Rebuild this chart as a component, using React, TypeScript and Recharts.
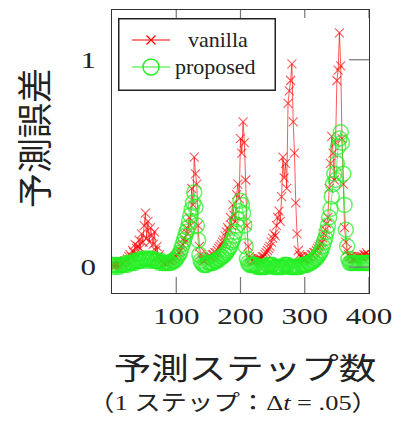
import React from "react";
import { LineChart, Line, XAxis, YAxis } from "recharts";

// prediction step (x)
const steps = [
  0, 2, 4, 6, 8, 10, 12, 14, 16, 18, 20, 22, 24, 26, 28, 30, 32, 34, 36, 38,
  40, 42, 44, 46, 48, 50, 52, 54, 56, 58, 60, 62, 64, 66, 68, 70, 72, 74, 76, 78,
  80, 82, 84, 86, 88, 90, 92, 94, 96, 98, 100, 102, 104, 106, 108, 110, 112, 114, 116, 118,
  120, 122, 124, 126, 128, 130, 132, 134, 136, 138, 140, 142, 144, 146, 148, 150, 152, 154, 156, 158,
  160, 162, 164, 166, 168, 170, 172, 174, 176, 178, 180, 182, 184, 186, 188, 190, 192, 194, 196, 198,
  200, 202, 204, 206, 208, 210, 212, 214, 216, 218, 220, 222, 224, 226, 228, 230, 232, 234, 236, 238,
  240, 242, 244, 246, 248, 250, 252, 254, 256, 258, 260, 262, 264, 266, 268, 270, 272, 274, 276, 278,
  280, 282, 284, 286, 288, 290, 292, 294, 296, 298, 300, 302, 304, 306, 308, 310, 312, 314, 316, 318,
  320, 322, 324, 326, 328, 330, 332, 334, 336, 338, 340, 342, 344, 346, 348, 350, 352, 354, 356, 358,
  360, 362, 364, 366, 368, 370, 372, 374, 376, 378, 380, 382, 384, 386, 388, 390, 392, 394, 396, 398,
  400,
];

const vanilla = [
  0.01, 0.01, 0.01, 0.01, 0.01, 0.02, 0.01, 0.02, 0.02, 0.02, 0.03, 0.03, 0.04, 0.05, 0.06, 0.05, 0.08, 0.07, 0.11, 0.09,
  0.1, 0.13, 0.09, 0.16, 0.12, 0.2, 0.26, 0.14, 0.22, 0.12, 0.19, 0.15, 0.11, 0.17, 0.08, 0.1, 0.05, 0.06, 0.03, 0.03,
  0.02, 0.02, 0.02, 0.02, 0.03, 0.03, 0.03, 0.04, 0.04, 0.05, 0.05, 0.06, 0.07, 0.08, 0.1, 0.11, 0.14, 0.12, 0.19, 0.16,
  0.24, 0.2, 0.38, 0.3, 0.53, 0.45, 0.4, 0.2, 0.1, 0.06, 0.04, 0.03, 0.03, 0.04, 0.04, 0.05, 0.05, 0.05, 0.06, 0.06,
  0.07, 0.07, 0.08, 0.09, 0.1, 0.11, 0.12, 0.13, 0.15, 0.17, 0.19, 0.18, 0.24, 0.2, 0.3, 0.25, 0.22, 0.35, 0.4, 0.33,
  0.62, 0.55, 0.7, 0.6, 0.42, 0.2, 0.1, 0.05, 0.04, 0.03, 0.03, 0.03, 0.03, 0.04, 0.04, 0.04, 0.04, 0.05, 0.05, 0.06,
  0.07, 0.08, 0.09, 0.1, 0.12, 0.14, 0.16, 0.15, 0.2, 0.24, 0.27, 0.22, 0.34, 0.53, 0.43, 0.5, 0.38, 0.79, 0.85, 0.9,
  0.98, 0.7, 0.55, 0.31, 0.16, 0.08, 0.06, 0.05, 0.04, 0.04, 0.04, 0.04, 0.05, 0.05, 0.05, 0.06, 0.06, 0.07, 0.07, 0.08,
  0.09, 0.1, 0.11, 0.12, 0.14, 0.16, 0.18, 0.21, 0.24, 0.38, 0.5, 0.63, 0.55, 0.42, 0.6, 0.9, 0.95, 1.13, 0.97, 0.62,
  0.4, 0.19, 0.12, 0.08, 0.06, 0.05, 0.05, 0.04, 0.04, 0.04, 0.04, 0.05, 0.05, 0.05, 0.05, 0.05, 0.06, 0.06, 0.07, 0.06,
  0.05,
];

const proposed = [
  0.01, 0.01, 0.0, 0.01, 0.01, 0.0, 0.01, 0.01, 0.01, 0.01, 0.01, 0.02, 0.01, 0.02, 0.02, 0.02, 0.02, 0.03, 0.02, 0.03,
  0.03, 0.03, 0.03, 0.04, 0.03, 0.04, 0.04, 0.04, 0.03, 0.04, 0.04, 0.03, 0.04, 0.03, 0.03, 0.03, 0.03, 0.02, 0.03, 0.02,
  0.02, 0.02, 0.02, 0.02, 0.02, 0.02, 0.02, 0.03, 0.03, 0.03, 0.04, 0.05, 0.06, 0.07, 0.09, 0.11, 0.13, 0.15, 0.17, 0.19,
  0.22, 0.25, 0.28, 0.31, 0.36, 0.29, 0.2, 0.13, 0.06, 0.03, 0.02, 0.01, 0.01, 0.01, 0.01, 0.02, 0.02, 0.02, 0.02, 0.02,
  0.03, 0.03, 0.03, 0.04, 0.04, 0.05, 0.05, 0.06, 0.06, 0.07, 0.08, 0.09, 0.1, 0.12, 0.13, 0.15, 0.17, 0.2, 0.23, 0.27,
  0.32, 0.3, 0.26, 0.2, 0.1, 0.04, 0.02, 0.01, 0.01, 0.01, 0.01, 0.01, 0.01, 0.0, 0.0, 0.0, 0.0, 0.0, 0.0, 0.0,
  0.0, 0.01, 0.01, 0.01, 0.01, 0.01, 0.0, 0.0, 0.0, 0.0, 0.0, 0.0, 0.0, 0.0, 0.01, 0.01, 0.01, 0.01, 0.0, 0.0,
  0.0, 0.0, 0.0, 0.0, 0.0, 0.0, 0.0, 0.01, 0.01, 0.01, 0.01, 0.01, 0.01, 0.02, 0.02, 0.02, 0.03, 0.03, 0.04, 0.04,
  0.05, 0.06, 0.07, 0.08, 0.1, 0.12, 0.14, 0.17, 0.2, 0.24, 0.28, 0.34, 0.4, 0.45, 0.42, 0.5, 0.58, 0.62, 0.65, 0.6,
  0.45, 0.3, 0.18, 0.1, 0.04, 0.02, 0.02, 0.02, 0.02, 0.02, 0.02, 0.02, 0.02, 0.02, 0.02, 0.02, 0.02, 0.02, 0.02, 0.02,
  0.02,
];

const xTicks = [100, 200, 300, 400];
const yTicks = [0, 1];

const chartData = steps.map((s, i) => ({
  step: s,
  vanilla: vanilla[i],
  proposed: proposed[i],
}));

const RED = "#ff0000";
const GREEN = "#22f022";
const TICK_GRAY = "#777";
const FRAME = "#333";
const SERIF = "'Liberation Serif', 'DejaVu Serif', serif";
const JP = "'Liberation Serif', 'Noto Sans CJK JP', sans-serif";

// plot box in the 395x422 canvas
const PLOT = { left: 112, top: 10, right: 369, bottom: 293 };
const LABEL_GAP = 15; // axis line -> top of x tick label
const Y_LABEL_GAP = 16;

const CrossDot = (props: any) => {
  const { cx, cy, index } = props;
  if (cx == null || cy == null) return <g key={`v${index}`} />;
  const s = 4.5;
  return (
    <path
      key={`v${index}`}
      d={`M${cx - s},${cy - s}L${cx + s},${cy + s}M${cx - s},${cy + s}L${cx + s},${cy - s}`}
      stroke={RED}
      strokeOpacity={0.65}
      strokeWidth={1.1}
      fill="none"
    />
  );
};

const CircleDot = (props: any) => {
  const { cx, cy, index } = props;
  if (cx == null || cy == null) return <g key={`p${index}`} />;
  return (
    <circle
      key={`p${index}`}
      cx={cx}
      cy={cy}
      r={7.5}
      stroke={GREEN}
      strokeOpacity={0.7}
      strokeWidth={1.5}
      fill="none"
    />
  );
};

// x tick: label below the box, plus short inner tick marks at bottom and top edges
const XTick = (props: any) => {
  const { x, y, payload } = props;
  const axisY = y - LABEL_GAP;
  return (
    <g>
      <line x1={x} x2={x} y1={axisY} y2={axisY - 16} stroke={TICK_GRAY} strokeWidth={1.2} />
      <line x1={x} x2={x} y1={PLOT.top} y2={PLOT.top + 8} stroke={TICK_GRAY} strokeWidth={1.2} />
      <text
        transform={`translate(${x},${y}) scale(1.35,1)`}
        textAnchor="middle"
        dy="0.71em"
        fontSize={23}
        fontFamily={SERIF}
        fill="#222"
      >
        {payload.value}
      </text>
    </g>
  );
};

// y tick: label left of the box, short inner tick mark at the right edge
const YTick = (props: any) => {
  const { x, y, payload } = props;
  return (
    <g>
      <line x1={PLOT.right} x2={PLOT.right - 20} y1={y} y2={y} stroke={TICK_GRAY} strokeWidth={1.2} />
      <text
        transform={`translate(${x},${y}) scale(1.35,1)`}
        textAnchor="end"
        dy="0.36em"
        fontSize={23}
        fontFamily={SERIF}
        fill="#222"
      >
        {payload.value}
      </text>
    </g>
  );
};

const LegendBox = () => (
  <svg
    width={158}
    height={73}
    style={{ position: "absolute", left: 118, top: 18 }}
  >
    <rect x={0.75} y={0.75} width={156.5} height={71.5} fill="#fff" stroke="#222" strokeWidth={1.5} />
    <line x1={14} x2={52} y1={22} y2={22} stroke={RED} strokeWidth={1.2} />
    <path d="M28.5,17.5L37.5,26.5M28.5,26.5L37.5,17.5" stroke={RED} strokeWidth={1.2} />
    <text x={70} y={22} dy="0.33em" fontSize={20} fontFamily={SERIF} fill="#222" transform="translate(-7,0) scale(1.1,1)">
      vanilla
    </text>
    <line x1={14} x2={52} y1={49} y2={49} stroke={GREEN} strokeWidth={1.2} />
    <circle cx={33} cy={49} r={8} stroke={GREEN} strokeWidth={1.5} fill="none" />
    <text x={57} y={49} dy="0.33em" fontSize={20} fontFamily={SERIF} fill="#222" transform="translate(-5.7,0) scale(1.1,1)">
      proposed
    </text>
  </svg>
);

const App = () => {
  return (
    <div
      style={{
        position: "absolute",
        left: 0,
        top: 0,
        width: 395,
        height: 422,
        background: "#fff",
        color: "#222",
      }}
    >
      <LineChart
        width={395}
        height={422}
        data={chartData}
        margin={{ top: PLOT.top, right: 395 - PLOT.right, bottom: 99, left: 0 }}
      >
        <XAxis
          dataKey="step"
          type="number"
          domain={[0, 400]}
          ticks={xTicks}
          allowDataOverflow
          height={422 - 99 - PLOT.bottom}
          tickSize={0}
          tickMargin={LABEL_GAP}
          tickLine={false}
          tick={XTick}
          axisLine={false}
        />
        <YAxis
          type="number"
          domain={[-0.125, 1.24]}
          ticks={yTicks}
          allowDataOverflow
          width={PLOT.left}
          tickSize={0}
          tickMargin={Y_LABEL_GAP}
          tickLine={false}
          tick={YTick}
          axisLine={false}
        />
        <Line
          type="linear"
          dataKey="vanilla"
          stroke={RED}
          strokeOpacity={0.65}
          strokeWidth={1}
          dot={CrossDot}
          activeDot={false}
          isAnimationActive={false}
        />
        <Line
          type="linear"
          dataKey="proposed"
          stroke={GREEN}
          strokeOpacity={0.7}
          strokeWidth={1}
          dot={CircleDot}
          activeDot={false}
          isAnimationActive={false}
        />
      </LineChart>

      {/* plot frame */}
      <div
        style={{
          position: "absolute",
          left: PLOT.left - 0.75,
          top: PLOT.top - 0.75,
          width: PLOT.right - PLOT.left,
          height: PLOT.bottom - PLOT.top,
          border: `1.5px solid ${FRAME}`,
          pointerEvents: "none",
        }}
      />

      <LegendBox />

      <div
        style={{
          position: "absolute",
          left: 36,
          top: 138,
          transform: "translate(-50%, -50%) rotate(-90deg)",
          fontSize: 35,
          fontFamily: JP,
          lineHeight: 1,
          whiteSpace: "nowrap",
        }}
      >
        予測誤差
      </div>

      <div
        style={{
          position: "absolute",
          left: 245,
          top: 369,
          transform: "translate(-50%, -50%) scaleX(1.25)",
          fontSize: 30,
          fontFamily: JP,
          lineHeight: 1,
          whiteSpace: "nowrap",
        }}
      >
        予測ステップ数
      </div>

      <div
        style={{
          position: "absolute",
          left: 233,
          top: 403,
          transform: "translate(-50%, -50%) scaleX(1.2)",
          fontSize: 22,
          fontFamily: JP,
          lineHeight: 1,
          whiteSpace: "nowrap",
        }}
      >
        （1 ステップ：Δ<i>t</i> = .05）
      </div>
    </div>
  );
};

export default App;
